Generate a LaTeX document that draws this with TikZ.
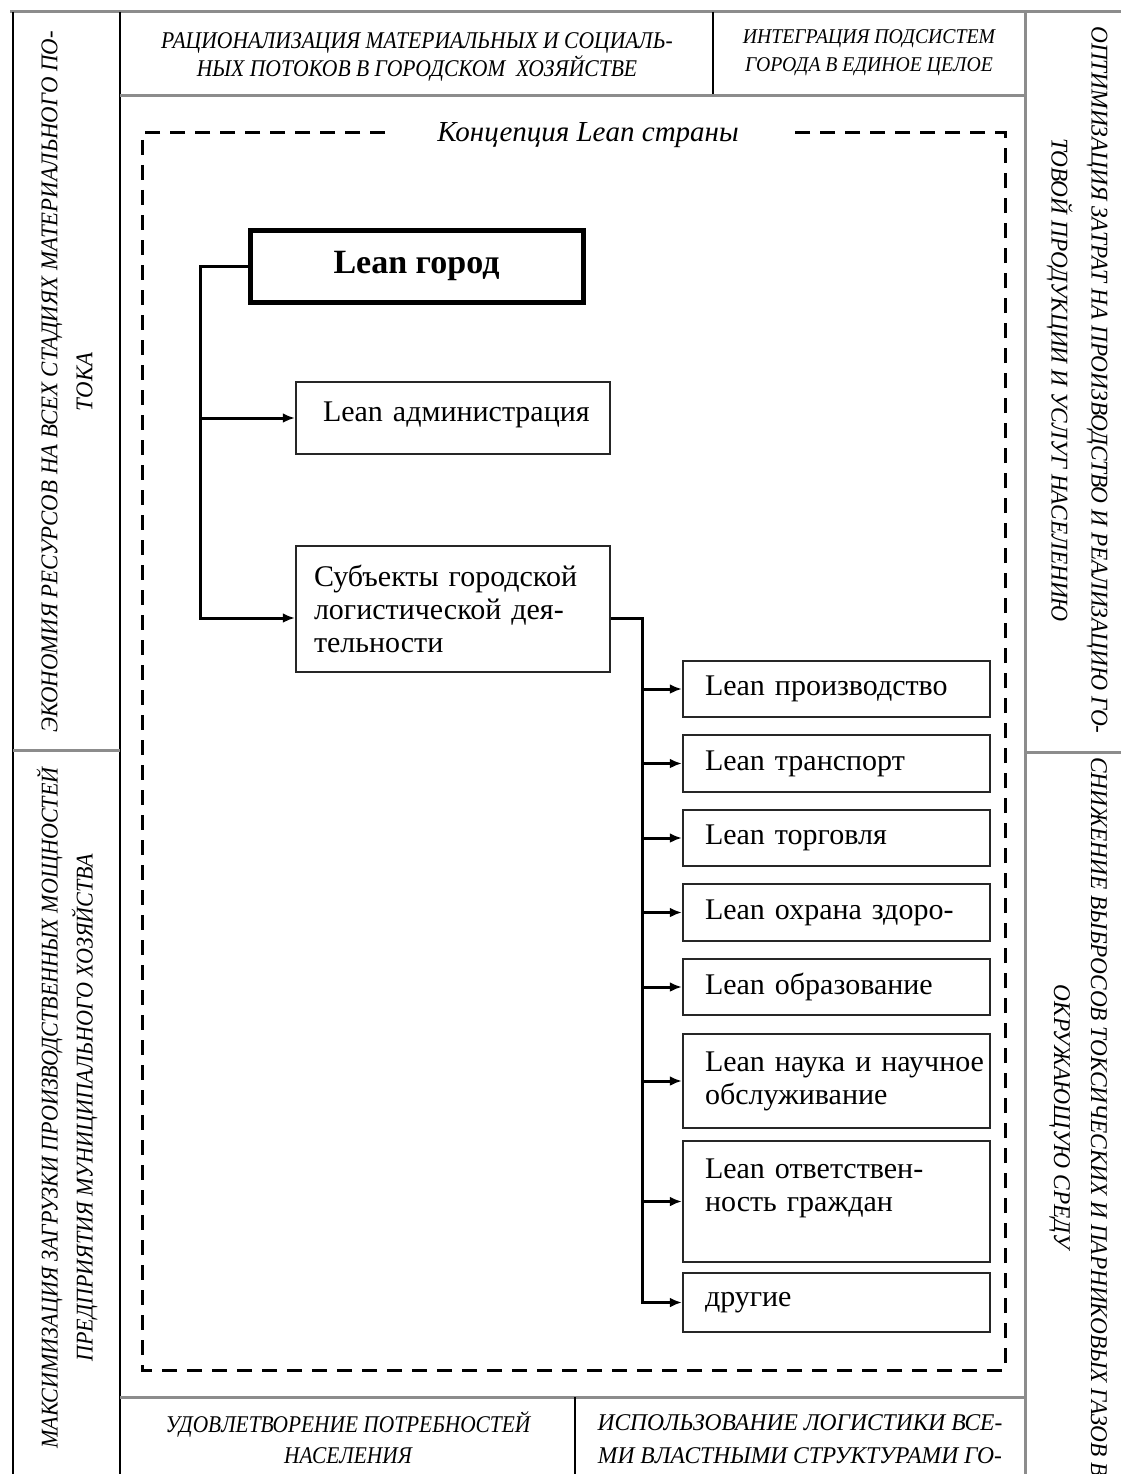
\documentclass[tikz,border=0pt]{standalone}
\usepackage{fontspec}
\setmainfont{Liberation Serif}
\usetikzlibrary{arrows.meta,calc}
\newcommand{\cz}[2][0.82]{\scalebox{#1}[1]{#2}}
\begin{document}
\begin{tikzpicture}[x=1pt,y=-1pt,
  gline/.style={line width=3pt, black!45},
  bline/.style={line width=2.5pt, black},
  box/.style={draw=black!85, line width=2.5pt, rectangle, font=\fontsize{30}{33}\selectfont, align=left, inner ysep=0pt},
  conn/.style={line width=3pt},
  arr/.style={line width=3pt, -{Latex[length=12pt,width=10pt]}},
  capsT/.style={font=\fontsize{24}{28}\selectfont\itshape, align=center, inner sep=0pt},
  dashframe/.style={line width=3pt, dash pattern=on 15pt off 10pt}]
\useasboundingbox (0,0) rectangle (1121,1474);
% outer frame
\draw[gline] (10,12) -- (1121,12);
\draw[bline] (13,12) -- (13,1474);
\draw[bline] (120,12) -- (120,1474);
\draw[bline] (713,12) -- (713,96);
\draw[gline] (1025,12) -- (1025,1474);
\draw[gline] (120,96) -- (1025,96);
\draw[gline] (13,750) -- (120,750);
\draw[gline] (1025,752) -- (1121,752);
\draw[gline] (120,1397) -- (1025,1397);
\draw[bline] (575,1397) -- (575,1474);
% frame texts
\node[capsT] (t1) at (417,57) {\cz[0.9]{РАЦИОНАЛИЗАЦИЯ МАТЕРИАЛЬНЫХ И СОЦИАЛЬ-}\\\cz[0.9]{НЫХ ПОТОКОВ В ГОРОДСКОМ\ \ ХОЗЯЙСТВЕ}};
\node[capsT, font=\fontsize{21}{28}\selectfont\itshape] (t2) at (869,53) {\cz[0.94]{ИНТЕГРАЦИЯ ПОДСИСТЕМ}\\\cz[0.94]{ГОРОДА В ЕДИНОЕ ЦЕЛОЕ}};
\node[capsT, font=\fontsize{24}{31}\selectfont\itshape] (b1) at (348,1438) {\cz[0.89]{УДОВЛЕТВОРЕНИЕ ПОТРЕБНОСТЕЙ}\\\cz[0.89]{НАСЕЛЕНИЯ}};
\node[capsT, font=\fontsize{24}{33}\selectfont\itshape] (b2) at (800,1439) {\cz[0.98]{ИСПОЛЬЗОВАНИЕ ЛОГИСТИКИ ВСЕ-}\\\cz[0.98]{МИ ВЛАСТНЫМИ СТРУКТУРАМИ ГО-}};
\node[capsT, font=\fontsize{24}{35}\selectfont\itshape, rotate=90] (l1) at (67,382) {\cz[0.95]{ЭКОНОМИЯ РЕСУРСОВ НА ВСЕХ СТАДИЯХ МАТЕРИАЛЬНОГО ПО-}\\\cz[0.95]{ТОКА}};
\node[capsT, font=\fontsize{24}{35}\selectfont\itshape, rotate=90] (l2) at (67,1108) {\cz[0.92]{МАКСИМИЗАЦИЯ ЗАГРУЗКИ ПРОИЗВОДСТВЕННЫХ МОЩНОСТЕЙ}\\\cz[0.92]{ПРЕДПРИЯТИЯ МУНИЦИПАЛЬНОГО ХОЗЯЙСТВА}};
\node[capsT, font=\fontsize{24}{40}\selectfont\itshape, rotate=-90] (r1t) at (1077,380) {\cz[0.97]{ОПТИМИЗАЦИЯ ЗАТРАТ НА ПРОИЗВОДСТВО И РЕАЛИЗАЦИЮ ГО-}\\\cz[0.97]{ТОВОЙ ПРОДУКЦИИ И УСЛУГ НАСЕЛЕНИЮ}};
\begin{scope}
\clip (1025,752) rectangle (1121,1474);
\node[capsT, font=\fontsize{24}{37}\selectfont\itshape, rotate=-90] (r2t) at (1078,1117) {\cz[0.97]{СНИЖЕНИЕ ВЫБРОСОВ ТОКСИЧЕСКИХ И ПАРНИКОВЫХ ГАЗОВ В}\\\cz[0.97]{ОКРУЖАЮЩУЮ СРЕДУ}};
\end{scope}
% dashed concept frame
\node[font=\fontsize{29}{30}\selectfont\itshape, inner sep=0pt] (ttl) at (588,135) {Концепция Lean страны};
\coordinate (dl) at (385,133);
\coordinate (dr) at (790,133);
\draw[dashframe] (dl) -- (142,133) -- (142,1370) -- (1005,1370) -- (1005,133) -- (dr);
% main boxes
\node[draw=black, line width=5pt, minimum width=333pt, minimum height=72pt, font=\fontsize{34}{36}\selectfont\bfseries] (lg) at (416.5,266) {Lean город};
\node[box, text width=260pt, inner xsep=27pt, minimum height=72pt, text depth=12pt] (adm) at (453,418) {\mbox{Lean администрация}};
\node[box, text width=278pt, inner xsep=18pt, minimum height=126pt] (subj) at (453,609) {\mbox{Субъекты городской}\\\mbox{логистической дея-}\\\mbox{тельности}};
\tikzset{rbox/.style={box, text width=263pt, inner xsep=22pt}}
\node[rbox, minimum height=56pt] (p1) at (836.5,689) {\mbox{Lean производство}};
\node[rbox, minimum height=57pt] (p2) at (836.5,763.5) {\mbox{Lean транспорт}};
\node[rbox, minimum height=56pt] (p3) at (836.5,838) {\mbox{Lean торговля}};
\node[rbox, minimum height=57pt] (p4) at (836.5,912.5) {\mbox{Lean охрана здоро-}};
\node[rbox, minimum height=56pt] (p5) at (836.5,987) {\mbox{Lean образование}};
\node[rbox, minimum height=94pt] (p6) at (836.5,1081) {\mbox{Lean наука и научное}\\\mbox{обслуживание}};
\node[rbox, minimum height=121pt] (p7) at (836.5,1201.5) {\mbox{Lean ответствен-}\\\mbox{ность граждан}\\\mbox{}};
\node[rbox, minimum height=59pt] (p8) at (836.5,1302.5) {\mbox{другие}};
% connectors
\coordinate (lt) at (200,266);
\coordinate (sa) at ($(subj.west)+(0,9)$);
\coordinate (sb) at ($(subj.east)+(0,9)$);
\coordinate (rt) at (642,618);
\draw[arr] (lg.west) -- (lt) |- (sa);
\draw[arr] (lt |- adm.west) -- (adm.west);
\draw[arr] (sb) -- (rt) |- (p8.west);
\foreach \n in {p1,p2,p3,p4,p5,p6,p7}{
  \draw[arr] (rt |- \n.west) -- (\n.west);
}
\end{tikzpicture}
\end{document}
